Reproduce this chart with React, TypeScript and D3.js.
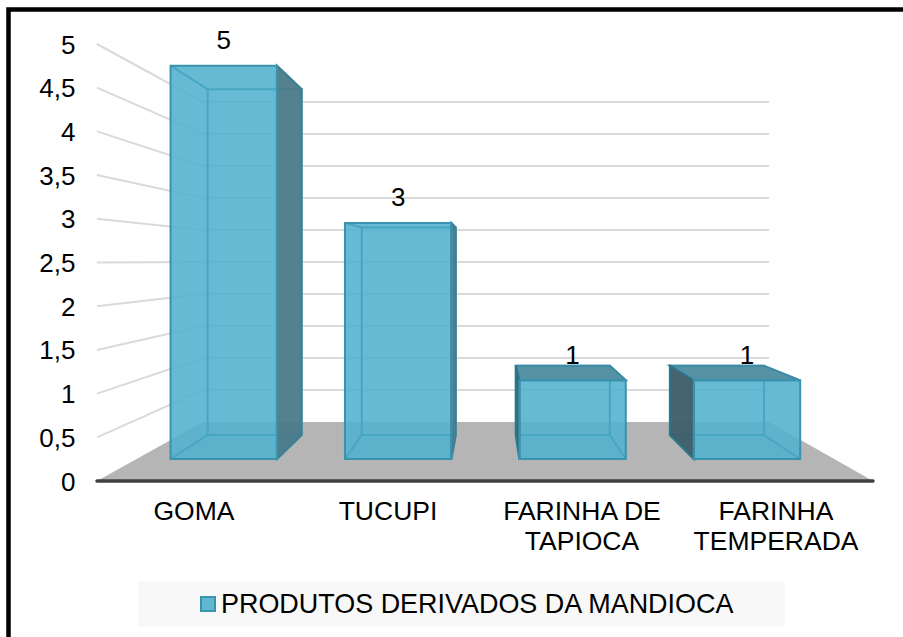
import React from "react";
import * as d3 from "d3";

const categories = ["GOMA", "TUCUPI", "FARINHA DE|TAPIOCA", "FARINHA|TEMPERADA"];
const values = [5, 3, 1, 1];
const yTicks = [0, 0.5, 1, 1.5, 2, 2.5, 3, 3.5, 4, 4.5, 5];
const seriesName = "PRODUTOS DERIVADOS DA MANDIOCA";

const W = 903, H = 637;
const FRONT_D = 0.373, BACK_D = 0.78;
const yFront = d3.scaleLinear().domain([0, 5]).range([481, 44]);
const yBack = d3.scaleLinear().domain([0, 5]).range([422, 102]);
const xFront = d3.scaleLinear().domain([0, 1]).range([97, 873]);
const xBack = d3.scaleLinear().domain([0, 1]).range([203, 769]);
const depthX = d3.scaleLinear().domain([0, FRONT_D, BACK_D, 1]).range([0, FRONT_D, 0.76, 1]);
const band = d3.scaleBand<string>().domain(categories).range([0, 1]).paddingInner(0.39).paddingOuter(0.195);

const px = (u: number, d: number) => xFront(u) + (xBack(u) - xFront(u)) * depthX(d);
const py = (v: number, d: number) => yFront(v) + (yBack(v) - yFront(v)) * d;
const P = (u: number, v: number, d: number): [number, number] => [px(u, d), py(v, d)];
const line = d3.line<[number, number]>();
const closed = (pts: [number, number][]) => line(pts) + "Z";

const FONT = "'Liberation Sans', Arial, sans-serif";
const FS = 26;
const EDGE = "#3A93AD";
const INNER = "#47A6C1";

function Bar({ cat, value }: { cat: string; value: number }) {
  const u0 = band(cat)!, u1 = u0 + band.bandwidth();
  const fBL = P(u0, 0, FRONT_D), fBR = P(u1, 0, FRONT_D), fTL = P(u0, value, FRONT_D), fTR = P(u1, value, FRONT_D);
  const bBL = P(u0, 0, BACK_D), bBR = P(u1, 0, BACK_D), bTL = P(u0, value, BACK_D), bTR = P(u1, value, BACK_D);
  const topSeen = bTL[1] < fTL[1];
  const rightOuter = bBR[0] > fBR[0];
  const leftOuter = bBL[0] < fBL[0];
  return (
    <g>
      <path d={closed([fBL, fBR, bBR, bBL])} fill="rgb(80,175,203)" opacity={0.2} />
      <path d={closed([fTL, fTR, fBR, fBL])} fill="rgb(84,178,206)" fillOpacity={0.89} />
      <path d={closed([bTL, bTR, bBR, bBL])} fill="none" stroke={INNER} strokeWidth={2} />
      {[[fTL, bTL], [fTR, bTR], [fBL, bBL], [fBR, bBR]].map((s, i) => (
        <path key={i} d={line(s as [number, number][])!} stroke={INNER} strokeWidth={2} fill="none" />
      ))}
      {topSeen && <path d={closed([fTL, fTR, bTR, bTL])} fill="#5592A6" stroke="#3E8CA3" strokeWidth={2} />}
      {rightOuter && <path d={closed([fTR, bTR, bBR, fBR])} fill="#4A7A8A" fillOpacity={0.95} stroke="#3B7F93" strokeWidth={2} />}
      {leftOuter && <path d={closed([fTL, bTL, bBL, fBL])} fill="#3F5F6B" fillOpacity={0.97} stroke="#2F7488" strokeWidth={2} />}
      <path d={closed([fTL, fTR, fBR, fBL])} fill="none" stroke={EDGE} strokeWidth={2} />
      <text x={(fTL[0] + fTR[0]) / 2} y={fTL[1] - 16.5} textAnchor="middle" fontSize={FS} fill="#000" fontFamily={FONT}>{value}</text>
    </g>
  );
}

export default function App() {
  return (
    <svg width={W} height={H} viewBox={`0 0 ${W} ${H}`} style={{ position: "absolute", left: 0, top: 0, background: "#fff" }}>
      <path d="M8.5,637V9.5H903" fill="none" stroke="#000" strokeWidth={4.5} />
      <path d={closed([P(0, 0, 0), P(1, 0, 0), P(1, 0, 1), P(0, 0, 1)])} fill="#B5B5B5" />
      {yTicks.map(t => (
        <g key={t}>
          {t > 0 && <path d={line([P(0, t, 0), P(0, t, 1), P(1, t, 1)])!} fill="none" stroke="#DADADA" strokeWidth={2} />}
          <text x={75.5} y={yFront(t) + 9.5} textAnchor="end" fontSize={FS} fill="#000" fontFamily={FONT}>{String(t).replace(".", ",")}</text>
        </g>
      ))}
      <path d={line([P(0, 0, 0), P(1, 0, 0)])!} stroke="#404040" strokeWidth={3.5} strokeLinecap="round" />
      {categories.map((c, i) => <Bar key={c} cat={c} value={values[i]} />)}
      {categories.map(c => {
        const x = px(band(c)! + band.bandwidth() / 2, 0);
        return (
          <text key={c} x={x} textAnchor="middle" fontSize={26.5} fill="#000" fontFamily={FONT}>
            {c.split("|").map((l, i) => <tspan key={i} x={x} y={520 + i * 30}>{l}</tspan>)}
          </text>
        );
      })}
      <rect x={138} y={581} width={647} height={46} fill="#F8F8F8" />
      <rect x={201} y={597} width={14} height={14} fill="#63B8D1" stroke="#3A93AD" strokeWidth={2} />
      <text x={221} y={612.5} fontSize={26.95} fill="#000" fontFamily={FONT}>{seriesName}</text>
    </svg>
  );
}
